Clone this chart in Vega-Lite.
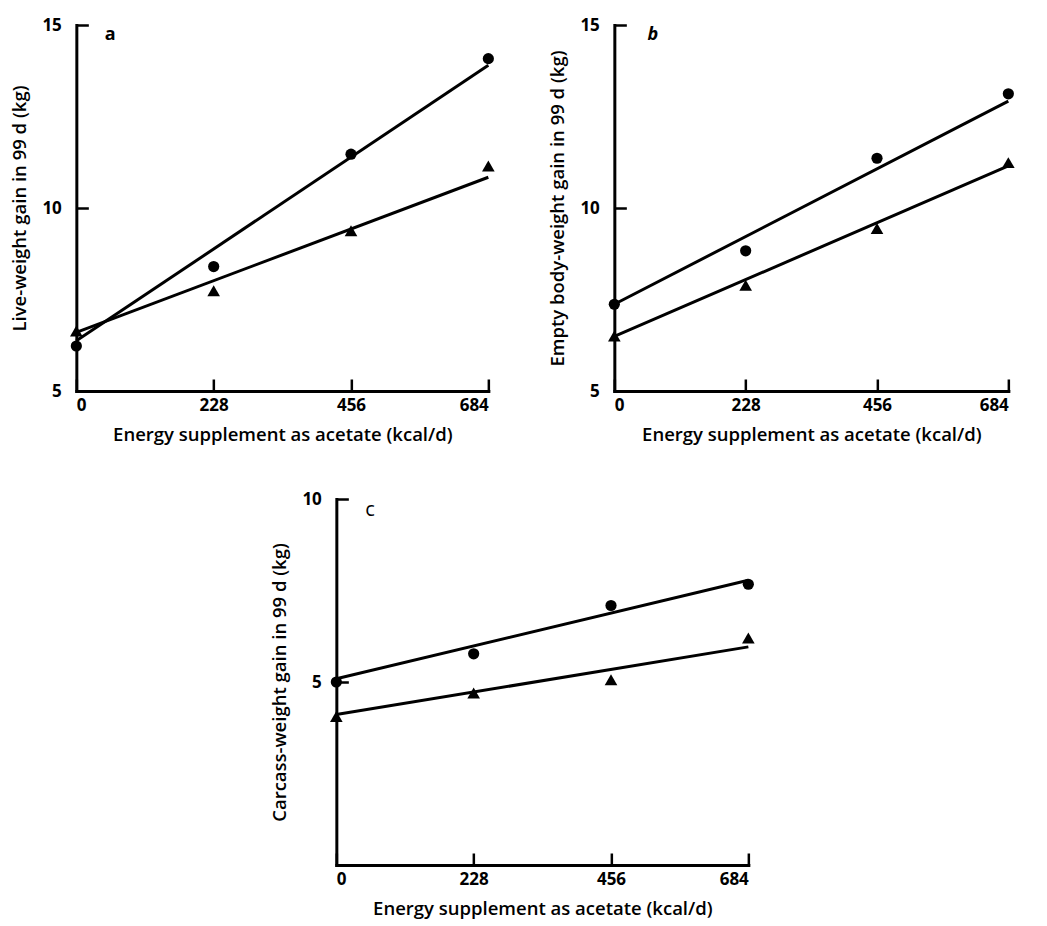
{
  "$schema": "https://vega.github.io/schema/vega-lite/v6.json",
  "background": "white",
  "padding": {"left": 10, "top": 16, "right": 5, "bottom": 5},
  "config": {
    "view": {"stroke": null},
    "font": "Open Sans",
    "axis": {
      "grid": false,
      "domainColor": "black",
      "domainWidth": 3,
      "domainCap": "square",
      "tickColor": "black",
      "tickWidth": 2.5,
      "tickSize": -12,
      "labelFont": "Open Sans",
      "labelFontWeight": "bold",
      "labelFontSize": 17,
      "labelColor": "black",
      "titleFont": "Open Sans",
      "titleFontWeight": 600,
      "titleFontSize": 18.5,
      "titleColor": "black"
    },
    "axisX": {"labelPadding": 18, "titlePadding": 12},
    "axisY": {"labelPadding": 27, "titlePadding": 12}
  },
  "datasets": {
    "pts": [
      {"panel": "a", "group": "circle", "x": 0, "y": 6.23},
      {"panel": "a", "group": "circle", "x": 228, "y": 8.40},
      {"panel": "a", "group": "circle", "x": 456, "y": 11.47},
      {"panel": "a", "group": "circle", "x": 684, "y": 14.08},
      {"panel": "a", "group": "triangle", "x": 0, "y": 6.64},
      {"panel": "a", "group": "triangle", "x": 228, "y": 7.74},
      {"panel": "a", "group": "triangle", "x": 456, "y": 9.38},
      {"panel": "a", "group": "triangle", "x": 684, "y": 11.15},
      {"panel": "b", "group": "circle", "x": 0, "y": 7.37},
      {"panel": "b", "group": "circle", "x": 228, "y": 8.83},
      {"panel": "b", "group": "circle", "x": 456, "y": 11.36},
      {"panel": "b", "group": "circle", "x": 684, "y": 13.12},
      {"panel": "b", "group": "triangle", "x": 0, "y": 6.50},
      {"panel": "b", "group": "triangle", "x": 228, "y": 7.89},
      {"panel": "b", "group": "triangle", "x": 456, "y": 9.44},
      {"panel": "b", "group": "triangle", "x": 684, "y": 11.24},
      {"panel": "c", "group": "circle", "x": 0, "y": 5.0},
      {"panel": "c", "group": "circle", "x": 228, "y": 5.77},
      {"panel": "c", "group": "circle", "x": 456, "y": 7.09},
      {"panel": "c", "group": "circle", "x": 684, "y": 7.67},
      {"panel": "c", "group": "triangle", "x": 0, "y": 4.06},
      {"panel": "c", "group": "triangle", "x": 228, "y": 4.70},
      {"panel": "c", "group": "triangle", "x": 456, "y": 5.06},
      {"panel": "c", "group": "triangle", "x": 684, "y": 6.20}
    ],
    "fit": [
      {"panel": "a", "group": "circle", "x": 0, "y": 6.37},
      {"panel": "a", "group": "circle", "x": 684, "y": 13.9},
      {"panel": "a", "group": "triangle", "x": 0, "y": 6.6},
      {"panel": "a", "group": "triangle", "x": 684, "y": 10.84},
      {"panel": "b", "group": "circle", "x": 0, "y": 7.37},
      {"panel": "b", "group": "circle", "x": 684, "y": 12.92},
      {"panel": "b", "group": "triangle", "x": 0, "y": 6.49},
      {"panel": "b", "group": "triangle", "x": 684, "y": 11.15},
      {"panel": "c", "group": "circle", "x": 0, "y": 5.09},
      {"panel": "c", "group": "circle", "x": 684, "y": 7.78},
      {"panel": "c", "group": "triangle", "x": 0, "y": 4.11},
      {"panel": "c", "group": "triangle", "x": 684, "y": 5.96}
    ],
    "lab": [
      {"panel": "a", "x": 56, "y": 14.73, "text": "a"},
      {"panel": "b", "x": 67, "y": 14.73, "text": "b"},
      {"panel": "c", "x": 56, "y": 9.7, "text": "c"}
    ]
  },
  "vconcat": [
    {
      "hconcat": [
        {
          "width": 412,
          "height": 366,
          "encoding": {
            "x": {"field": "x", "type": "quantitative", "scale": {"domain": [0, 684], "nice": false, "zero": false},
                  "axis": {"values": [0, 228, 456, 684], "title": "Energy supplement as acetate  (kcal/d)"}},
            "y": {"field": "y", "type": "quantitative", "scale": {"domain": [5, 15], "nice": false, "zero": false},
                  "axis": {"values": [5, 10, 15], "title": "Live-weight gain in 99 d (kg)"}}
          },
          "layer": [
            {"data": {"name": "fit"}, "transform": [{"filter": "datum.panel === 'a'"}],
             "mark": {"type": "line", "color": "black", "strokeWidth": 3},
             "encoding": {"detail": {"field": "group"}}},
            {"data": {"name": "pts"}, "transform": [{"filter": "datum.panel === 'a'"}],
             "mark": {"type": "point", "filled": true, "opacity": 1, "color": "black"},
             "encoding": {"shape": {"field": "group", "type": "nominal", "scale": {"domain": ["circle", "triangle"], "range": ["circle", "triangle-up"]}, "legend": null},
                          "size": {"field": "group", "type": "nominal", "scale": {"domain": ["circle", "triangle"], "range": [125, 160]}, "legend": null}}},
            {"data": {"name": "lab"}, "transform": [{"filter": "datum.panel === 'a'"}],
             "mark": {"type": "text", "font": "Open Sans", "fontWeight": "bold", "fontSize": 18, "color": "black"},
             "encoding": {"text": {"field": "text"}}}
          ]
        },
        {
          "width": 394,
          "height": 366,
          "encoding": {
            "x": {"field": "x", "type": "quantitative", "scale": {"domain": [0, 684], "nice": false, "zero": false},
                  "axis": {"values": [0, 228, 456, 684], "title": "Energy supplement as acetate (kcal/d)"}},
            "y": {"field": "y", "type": "quantitative", "scale": {"domain": [5, 15], "nice": false, "zero": false},
                  "axis": {"values": [5, 10, 15], "title": "Empty body-weight gain in 99 d (kg)"}}
          },
          "layer": [
            {"data": {"name": "fit"}, "transform": [{"filter": "datum.panel === 'b'"}],
             "mark": {"type": "line", "color": "black", "strokeWidth": 3},
             "encoding": {"detail": {"field": "group"}}},
            {"data": {"name": "pts"}, "transform": [{"filter": "datum.panel === 'b'"}],
             "mark": {"type": "point", "filled": true, "opacity": 1, "color": "black"},
             "encoding": {"shape": {"field": "group", "type": "nominal", "scale": {"domain": ["circle", "triangle"], "range": ["circle", "triangle-up"]}, "legend": null},
                          "size": {"field": "group", "type": "nominal", "scale": {"domain": ["circle", "triangle"], "range": [125, 160]}, "legend": null}}},
            {"data": {"name": "lab"}, "transform": [{"filter": "datum.panel === 'b'"}],
             "mark": {"type": "text", "font": "Open Sans", "fontWeight": "bold", "fontStyle": "italic", "fontSize": 18, "color": "black"},
             "encoding": {"text": {"field": "text"}}}
          ]
        }
      ],
      "spacing": 53
    },
    {
      "width": 412,
      "height": 366,
      "encoding": {
        "x": {"field": "x", "type": "quantitative", "scale": {"domain": [0, 684], "nice": false, "zero": false},
              "axis": {"values": [0, 228, 456, 684], "title": "Energy supplement as acetate (kcal/d)"}},
        "y": {"field": "y", "type": "quantitative", "scale": {"domain": [0, 10], "nice": false, "zero": false},
              "axis": {"values": [5, 10], "title": "Carcass-weight gain in 99 d (kg)"}}
      },
      "layer": [
        {"data": {"name": "fit"}, "transform": [{"filter": "datum.panel === 'c'"}],
         "mark": {"type": "line", "color": "black", "strokeWidth": 3},
         "encoding": {"detail": {"field": "group"}}},
        {"data": {"name": "pts"}, "transform": [{"filter": "datum.panel === 'c'"}],
         "mark": {"type": "point", "filled": true, "opacity": 1, "color": "black"},
         "encoding": {"shape": {"field": "group", "type": "nominal", "scale": {"domain": ["circle", "triangle"], "range": ["circle", "triangle-up"]}, "legend": null},
                      "size": {"field": "group", "type": "nominal", "scale": {"domain": ["circle", "triangle"], "range": [125, 160]}, "legend": null}}},
        {"data": {"name": "lab"}, "transform": [{"filter": "datum.panel === 'c'"}],
         "mark": {"type": "text", "font": "Open Sans", "fontWeight": "normal", "fontSize": 20, "color": "black"},
         "encoding": {"text": {"field": "text"}}}
      ]
    }
  ],
  "spacing": 46,
  "center": true
}
